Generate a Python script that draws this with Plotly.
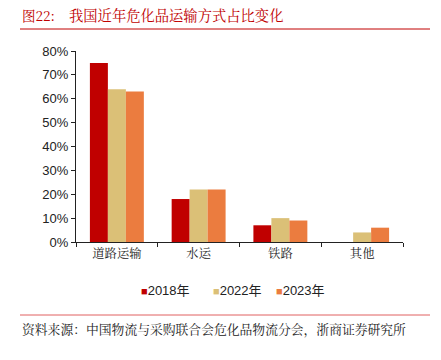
import plotly.graph_objects as go

categories = ["道路运输", "水运", "铁路", "其他"]
years = ["2018年", "2022年", "2023年"]
v2018 = [0.75, 0.18, 0.07, 0.0]
v2022 = [0.64, 0.22, 0.10, 0.04]
v2023 = [0.63, 0.22, 0.09, 0.06]
colors = ["#C00000", "#DBC077", "#EB7C3F"]
tickvals = [0, 0.1, 0.2, 0.3, 0.4, 0.5, 0.6, 0.7, 0.8]
ticktext = ["0%", "10%", "20%", "30%", "40%", "50%", "60%", "70%", "80%"]

W, H = 441, 360
L, R, T, B = 76, 38, 51, 118
pw, ph = W - L - R, H - T - B

def px(x):
    return (x - L) / pw

def py(y):
    return (H - B - y) / ph

fig = go.Figure()
for name, vals, c in zip(years, [v2018, v2022, v2023], colors):
    fig.add_trace(go.Bar(x=categories, y=vals, name=name, marker_color=c,
                         marker_line_width=0, showlegend=False, hoverinfo="skip"))

fig.update_layout(
    width=W, height=H, margin=dict(l=L, r=R, t=T, b=B),
    plot_bgcolor="white", paper_bgcolor="white",
    barmode="group", bargap=0.34, bargroupgap=0,
    font=dict(family="Liberation Sans, Arial", size=12, color="#222"),
    xaxis=dict(showline=True, linecolor="#222", linewidth=1, ticks="outside",
               tickson="boundaries", ticklen=4, tickcolor="#222",
               tickfont=dict(family="Noto Serif CJK SC, Noto Sans CJK SC", size=12.3, color="#222"),
               showgrid=False),
    yaxis=dict(range=[0, 0.8], tickvals=tickvals, ticktext=ticktext,
               showline=True, linecolor="#222", linewidth=1, ticks="outside",
               ticklen=4, tickcolor="#222", showgrid=False, zeroline=False,
               tickfont=dict(size=13, color="#222")),
)

# legend row
legend_x = [139, 211, 274]
for lx, name, c in zip(legend_x, years, colors):
    fig.add_annotation(text=f"<span style='color:{c};font-size:11px'>■</span>{name}", xref="paper", yref="paper",
                       x=px(lx), y=py(290), xanchor="left", yanchor="middle", showarrow=False,
                       font=dict(family="Liberation Sans, Noto Sans CJK SC", size=13, color="#222"))

fig.add_annotation(text="图22:", xref="paper", yref="paper",
                   x=px(20), y=py(15), xanchor="left", yanchor="middle", showarrow=False,
                   font=dict(family="Noto Serif CJK SC, Noto Sans CJK SC", size=13.5, color="#C00000"))
fig.add_annotation(text="我国近年危化品运输方式占比变化", xref="paper", yref="paper",
                   x=px(67), y=py(15), xanchor="left", yanchor="middle", showarrow=False,
                   font=dict(family="Noto Serif CJK SC, Noto Sans CJK SC", size=14.3, color="#C00000"))
fig.add_annotation(text="资料来源：中国物流与采购联合会危化品物流分会，浙商证券研究所", xref="paper", yref="paper",
                   x=px(20), y=py(328), xanchor="left", yanchor="middle", showarrow=False,
                   font=dict(family="Noto Serif CJK SC, Noto Sans CJK SC", size=12.8, color="#222"))
fig.add_shape(type="line", xref="paper", yref="paper", x0=px(20), x1=px(430),
              y0=py(29), y1=py(29), line=dict(color="#C00000", width=1))
fig.add_shape(type="line", xref="paper", yref="paper", x0=px(20), x1=px(430),
              y0=py(315), y1=py(315), line=dict(color="#E06060", width=1))

fig.write_html("out.html", config={"displayModeBar": False},
               post_script="document.body.style.margin='0';")
